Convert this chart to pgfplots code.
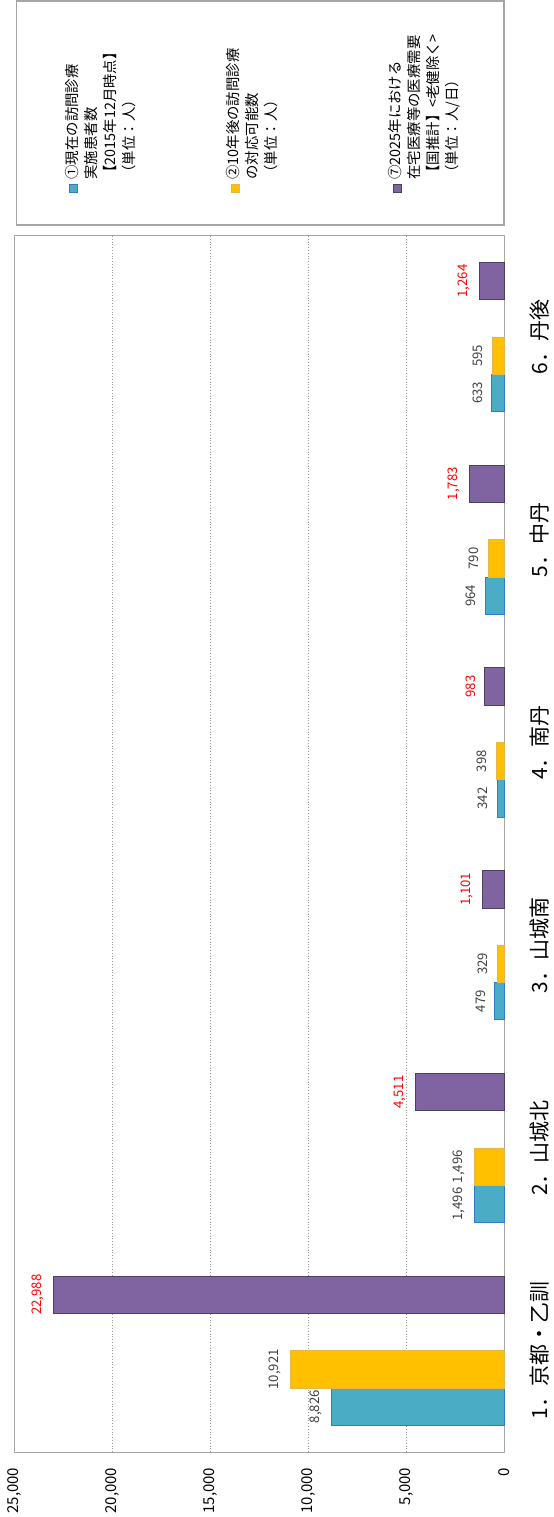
\documentclass[border=0pt]{standalone}
\usepackage{fontspec}
\setmainfont{Noto Sans CJK JP}
\usepackage{pgfplots}
\pgfplotsset{compat=1.18, /pgf/number format/1000 sep={,}}
\definecolor{cblue}{HTML}{4BACC6}
\definecolor{cblueE}{HTML}{2C7CCB}
\definecolor{corange}{HTML}{FFC000}
\definecolor{corangeE}{HTML}{E4B64C}
\definecolor{cpurple}{HTML}{8064A2}
\definecolor{cpurpleE}{HTML}{4D3F60}
\definecolor{labgray}{HTML}{404040}
\definecolor{framec}{HTML}{A6A6A6}
\begin{document}
\begin{tikzpicture}
\path[use as bounding box] (-7.15pt,-32.5pt) rectangle (269.35pt,726pt);
\begin{axis}[
  at={(0pt,0pt)}, anchor=south west,
  scale only axis, width=244.85pt, height=608.15pt,
  xbar, bar width=18.65pt,
  x dir=reverse,
  xmin=0, xmax=25000, ymin=0.5, ymax=6.5,
  xtick={0,5000,10000,15000,20000,25000},
  scaled x ticks=false,
  ytick={1,2,3,4,5,6},
  yticklabels={1．京都・乙訓,2．山城北,3．山城南,4．南丹,5．中丹,6．丹後},
  yticklabel pos=right,
  major tick length=0pt,
  xmajorgrids, major grid style={densely dotted, draw=black!40},
  axis line style={draw=framec},
  /pgf/number format/assume math mode=true,
  xticklabel style={rotate=90, anchor=east, inner sep=0pt, font=\fontsize{7.5}{9}\selectfont, text=black},
  xticklabel shift=7.7pt,
  yticklabel style={rotate=90, anchor=north, inner sep=0pt, font=\fontsize{10.5}{12}\selectfont},
  yticklabel shift=12.5pt,
  nodes near coords,
  every node near coord/.append style={rotate=90, anchor=south, inner sep=4.5pt, font=\fontsize{6.6}{8}\selectfont, text=labgray},
  clip=false,
]
\addplot[fill=cblue, draw=cblueE, bar shift=-27.975pt] coordinates {(8826,1) (1496,2) (479,3) (342,4) (964,5) (633,6)};
\addplot[fill=corange, draw=corangeE, bar shift=-9.325pt] coordinates {(10921,1) (1496,2) (329,3) (398,4) (790,5) (595,6)};
\addplot[fill=cpurple, draw=cpurpleE, bar shift=27.975pt, every node near coord/.append style={text=red}] coordinates {(22988,1) (4511,2) (1101,3) (983,4) (1783,5) (1264,6)};
\end{axis}
\draw[framec, line width=0.8pt] (1.2pt,613.5pt) rectangle (244.85pt,725.6pt);
\fill[cblue, draw=cblueE, line width=0.4pt] (27.35pt,629.75pt) rectangle (31.35pt,633.75pt);
\node[rotate=90, anchor=north west, align=left, inner sep=0pt, font=\fontsize{7.2}{9.5}\selectfont] at (25.1pt,636pt) {①現在の訪問診療\\実施患者数\\【2015年12月時点】\\（単位：人）};
\fill[corange, draw=corangeE, line width=0.4pt] (108.6pt,629.75pt) rectangle (112.6pt,633.75pt);
\node[rotate=90, anchor=north west, align=left, inner sep=0pt, font=\fontsize{7.2}{9.5}\selectfont] at (105.85pt,636pt) {②10年後の訪問診療\\の対応可能数\\（単位：人）};
\fill[cpurple, draw=cpurpleE, line width=0.4pt] (189.6pt,629.75pt) rectangle (193.6pt,633.75pt);
\node[rotate=90, anchor=north west, align=left, inner sep=0pt, font=\fontsize{7.2}{9.5}\selectfont] at (186.6pt,636pt) {⑦2025年における\\在宅医療等の医療需要\\【国推計】<老健除く>\\（単位：人/日）};
\end{tikzpicture}
\end{document}
